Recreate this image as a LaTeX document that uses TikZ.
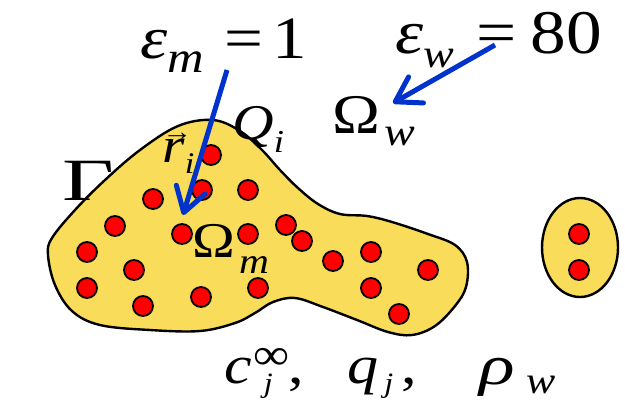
\documentclass[tikz,border=0pt]{standalone}
\usepackage{fontspec}
\setmainfont[FakeStretch=1.15]{Liberation Serif}
\usetikzlibrary{arrows.meta}
\definecolor{blobfill}{RGB}{249,220,90}
\definecolor{arrowblue}{RGB}{0,51,204}
\newcommand\lsub[3][7pt]{\raisebox{-#1}{\fontsize{#2}{#2}\selectfont\itshape #3}}

\begin{document}
\begin{tikzpicture}[x=0.5pt, y=-0.5pt,
    region/.style={draw=black, line width=1.2pt, fill=blobfill},
    atom/.style={circle, draw=black, line width=0.9pt, fill=red, minimum size=10pt, inner sep=0pt},
    lbl/.style={inner sep=0pt, anchor=base west},
    ar/.style={draw=arrowblue, line width=2.5pt, -{Straight Barb[length=12pt, width=15pt, round]}}]
    \useasboundingbox (0,0) rectangle (625,408);
    \draw [region] plot [smooth cycle, tension=0.6] coordinates {(213,120) (240,131) (262,150) (280,170) (298,188) (318,204) (340,214) (367,216) (392,222) (428,234) (455,245) (467,262) (466,287) (455,306) (435,326) (412,335) (388,332) (357,320) (323,307) (295,298) (273,302) (255,313) (235,323) (200,331) (150,330) (100,325) (72,311) (55,285) (48,255) (52,238) (75,210) (105,180) (140,150) (178,126)};
    \draw [region] (580,247.5) ellipse [x radius=38, y radius=49.5];
    \foreach \p [count=\i] in {(211,155), (202,190), (153,199), (248,190), (115,226), (182,234), (248,234), (286,225), (302,241), (87,252), (134,270), (87,288), (143,306), (201,297), (258,288), (333,261), (371,252), (428,270), (371,288), (399,314), (579,234), (579,270)}
        \node [atom] (d\i) at \p {};
    \node [lbl, font=\fontsize{30}{30}\selectfont] (epsm) at (140,58) {\textit{ε}\lsub{22}{m}\hspace{10pt}=\hspace{5pt}1};
    \node [lbl, font=\fontsize{31}{31}\selectfont] (epsw) at (395,53) {\textit{ε}\lsub{20}{w}\hspace{11pt}=\hspace{7pt}80};
    \node [lbl, font=\fontsize{28}{28}\selectfont] (omw) at (332,133) {Ω\hspace{2pt}\lsub[6pt]{20}{w}};
    \node [lbl, font=\fontsize{25}{25}\selectfont] (omm) at (192,257) {Ω\hspace{2pt}\lsub[8pt]{18}{m}};
    \node [lbl, font=\fontsize{30}{30}\selectfont] (gam) at (62,200) {\scalebox{1.3}[1]{Γ}};
    \node [lbl, font=\fontsize{25}{25}\selectfont] (ri) at (162,162) {\rlap{\raisebox{11pt}{\fontsize{13}{13}\selectfont →}}\textit{r}\lsub[5.5pt]{15}{i}};
    \node [lbl, font=\fontsize{25}{25}\selectfont] (qi) at (232,139) {\textit{Q}\lsub[6.5pt]{16}{i}};
    \node [lbl, font=\fontsize{27}{27}\selectfont] (cinf) at (224,383) {\textit{c}\hspace{1pt}\rlap{\raisebox{7pt}{\fontsize{22}{22}\selectfont ∞}}\hspace{5pt}\lsub[4.5pt]{14}{j}\hspace{8pt},};
    \node [lbl, font=\fontsize{27}{27}\selectfont] (qj) at (347,383) {\textit{q}\hspace{3pt}\lsub[4.5pt]{14}{j}\hspace{4pt},};
    \node [lbl, font=\fontsize{28}{28}\selectfont] (rhow) at (479,384) {\scalebox{1.15}[1]{\textit{ρ}}\hspace{6pt}\lsub[4.5pt]{19}{w}};
    \coordinate (m-start) at (227,70);
    \coordinate (m-end) at (183,215);
    \coordinate (w-start) at (495,45);
    \coordinate (w-end) at (393,103);
    \draw [ar] (m-start) -- (m-end);
    \draw [ar] (w-start) -- (w-end);
\end{tikzpicture}
\end{document}
